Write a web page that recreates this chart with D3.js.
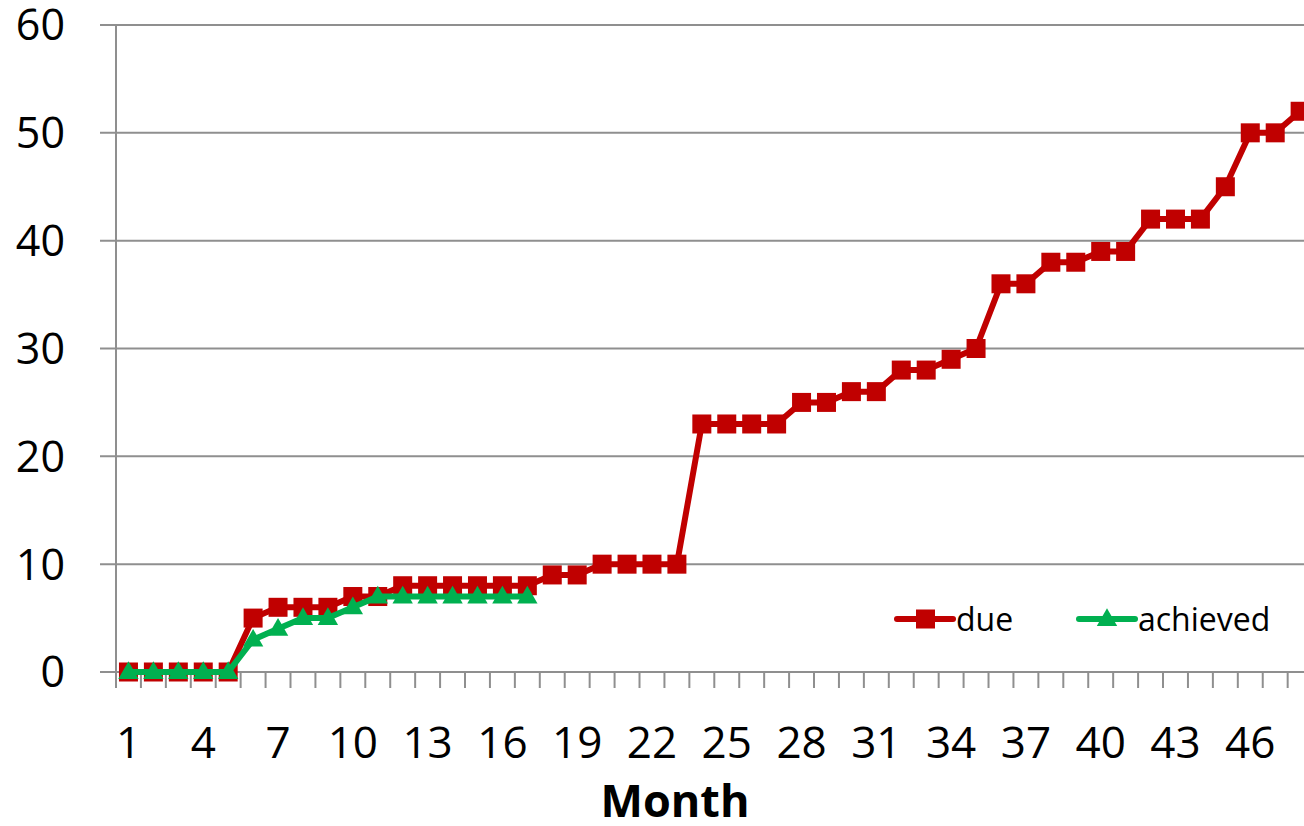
<!DOCTYPE html>
<html>
<head>
<meta charset="utf-8">
<script src="https://cdn.jsdelivr.net/npm/d3@7"></script>
<style>
  body { margin: 0; background: #fff; }
  text { font-family: "Open Sans", "Noto Sans", sans-serif; }
</style>
</head>
<body>
<div id="chart"></div>
<script>
const months = d3.range(1, 49)
const due = [0, 0, 0, 0, 0, 5, 6, 6, 6, 7, 7, 8, 8, 8, 8, 8, 8, 9, 9, 10, 10, 10, 10, 23,
  23, 23, 23, 25, 25, 26, 26, 28, 28, 29, 30, 36, 36, 38, 38, 39, 39, 42, 42, 42, 45, 50, 50, 52]
const achieved = [0, 0, 0, 0, 0, 3, 4, 5, 5, 6, 7, 7, 7, 7, 7, 7, 7]
const yTicks = [0, 10, 20, 30, 40, 50, 60]
const xLabelMonths = months.filter((m) => (m - 1) % 3 === 0)

const width = 1304
const height = 826
const plotLeft = 116
const plotRight = 1312.6
const plotTop = 25
const plotBottom = 672
const red = "#c00000"
const green = "#00b050"
const grey = "#8f8f8f"

const svg = d3.select("#chart").append("svg")
  .attr("width", width).attr("height", height)

const x = d3.scaleBand().domain(months).range([plotLeft, plotRight])
const y = d3.scaleLinear().domain([0, 60]).range([plotBottom, plotTop])
const cx = (m) => x(m) + x.bandwidth() / 2

// gridlines + y ticks
svg.append("g")
  .selectAll("line")
  .data(yTicks)
  .join("line")
  .attr("x1", plotLeft - 16).attr("x2", width)
  .attr("y1", (d) => y(d)).attr("y2", (d) => y(d))
  .attr("stroke", grey).attr("stroke-width", 2)

svg.append("g")
  .selectAll("text")
  .data(yTicks)
  .join("text")
  .attr("x", 65).attr("y", (d) => y(d))
  .attr("dy", "0.36em")
  .attr("text-anchor", "end")
  .attr("font-size", 43)
  .text((d) => d)

// y axis line
svg.append("line")
  .attr("x1", plotLeft).attr("x2", plotLeft)
  .attr("y1", plotTop).attr("y2", plotBottom + 16)
  .attr("stroke", grey).attr("stroke-width", 2)

// x tick marks at category boundaries
svg.append("g")
  .selectAll("line")
  .data(months)
  .join("line")
  .attr("x1", (d) => x(d) + x.bandwidth()).attr("x2", (d) => x(d) + x.bandwidth())
  .attr("y1", plotBottom).attr("y2", plotBottom + 16)
  .attr("stroke", grey).attr("stroke-width", 2)

svg.append("g")
  .selectAll("text")
  .data(xLabelMonths)
  .join("text")
  .attr("x", (d) => cx(d)).attr("y", 758)
  .attr("text-anchor", "middle")
  .attr("font-size", 44)
  .text((d) => d)

svg.append("text")
  .attr("x", 675).attr("y", 817)
  .attr("text-anchor", "middle")
  .attr("font-size", 45)
  .attr("font-weight", "bold")
  .text("Month")

const line = d3.line().x((d, i) => cx(months[i])).y((d) => y(d))
const tri = d3.symbol().type(d3.symbolTriangle).size(180)

// due series
svg.append("path")
  .datum(due)
  .attr("d", line)
  .attr("fill", "none").attr("stroke", red).attr("stroke-width", 6)
  .attr("stroke-linejoin", "round")
svg.append("g")
  .selectAll("rect")
  .data(due)
  .join("rect")
  .attr("x", (d, i) => cx(months[i]) - 9.5)
  .attr("y", (d) => y(d) - 9.5)
  .attr("width", 19).attr("height", 19)
  .attr("fill", red)

// achieved series
svg.append("path")
  .datum(achieved)
  .attr("d", line)
  .attr("fill", "none").attr("stroke", green).attr("stroke-width", 6)
  .attr("stroke-linejoin", "round")
svg.append("g")
  .selectAll("path")
  .data(achieved)
  .join("path")
  .attr("d", tri)
  .attr("transform", (d, i) => `translate(${cx(months[i])},${y(d) + 1})`)
  .attr("fill", green)

// legend
const legend = [
  { name: "due", color: red, x0: 897 },
  { name: "achieved", color: green, x0: 1079 },
]
const ly = 619
const lg = svg.append("g")
legend.forEach((l) => {
  lg.append("line")
    .attr("x1", l.x0).attr("x2", l.x0 + 56)
    .attr("y1", ly).attr("y2", ly)
    .attr("stroke", l.color).attr("stroke-width", 6).attr("stroke-linecap", "round")
  if (l.name === "due") {
    lg.append("rect")
      .attr("x", l.x0 + 19).attr("y", ly - 9.5)
      .attr("width", 19).attr("height", 19)
      .attr("fill", l.color)
  } else {
    lg.append("path")
      .attr("d", tri)
      .attr("transform", `translate(${l.x0 + 28},${ly + 1})`)
      .attr("fill", l.color)
  }
  lg.append("text")
    .attr("x", l.x0 + 59).attr("y", ly)
    .attr("dy", "0.36em")
    .attr("font-size", 32)
    .text(l.name)
})
</script>
</body>
</html>
